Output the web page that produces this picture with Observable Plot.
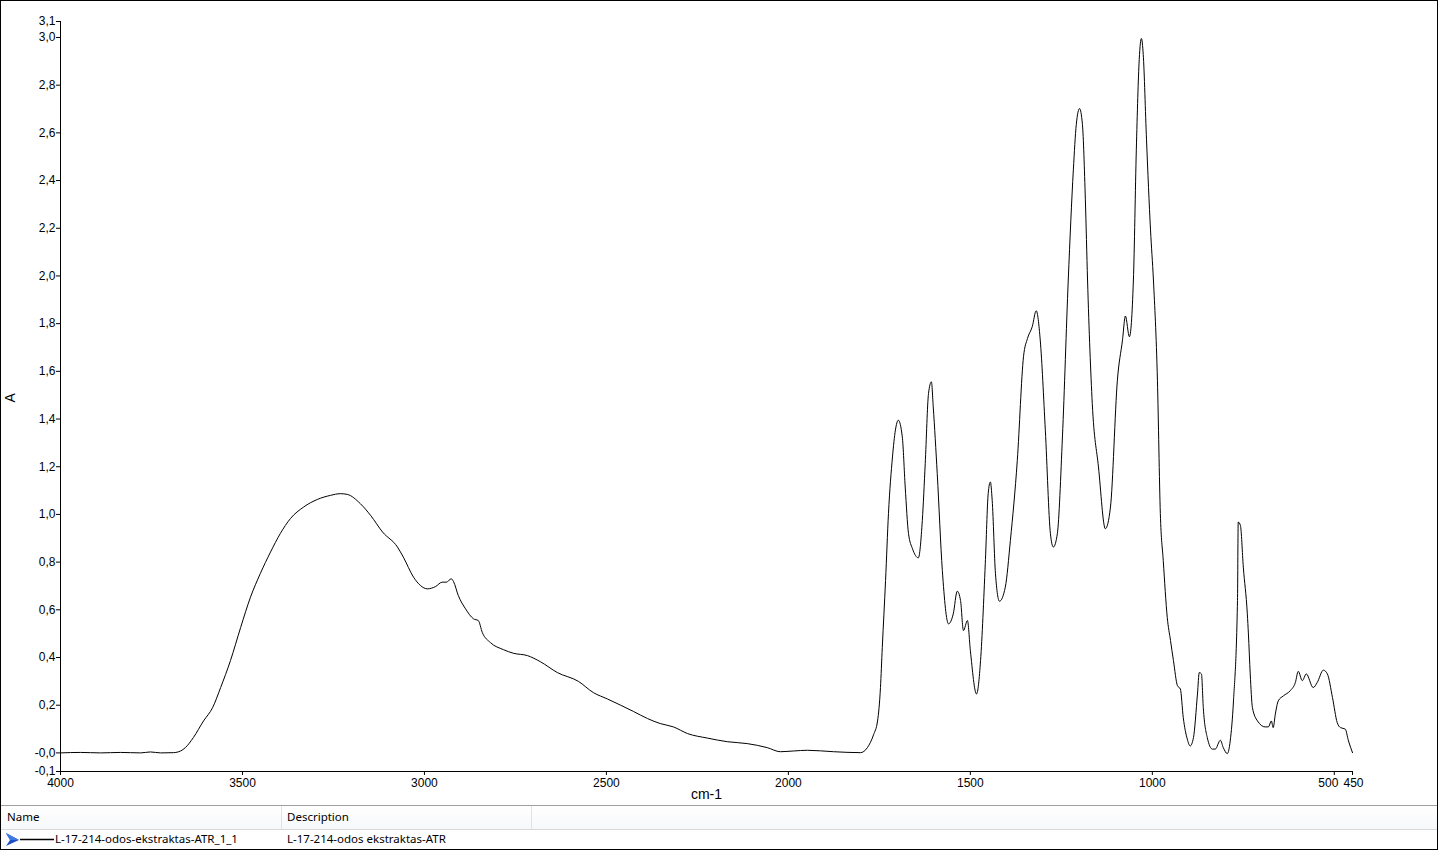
<!DOCTYPE html>
<html>
<head>
<meta charset="utf-8">
<script src="https://cdn.jsdelivr.net/npm/d3@7"></script>
<script src="https://cdn.jsdelivr.net/npm/@observablehq/plot@0.6"></script>
<style>
  html, body { margin: 0; padding: 0; background: #fff; }
  #wrap { position: relative; width: 1438px; height: 850px; background: #fff; overflow: hidden; }
  #chart svg { display: block; }
  #border { position: absolute; left: 0; top: 0; width: 1438px; height: 850px; box-sizing: border-box; border: 1px solid #000; pointer-events: none; }
  #legend { position: absolute; left: 0; top: 805px; width: 1438px; height: 45px; box-sizing: border-box; border-top: 1px solid #a0a0a0; font-family: "Noto Sans", "Open Sans", sans-serif; font-size: 11.5px; color: #000; }
  #legend .hdr { position: absolute; left: 0; top: 0; width: 100%; height: 23px; border-bottom: 1px solid #d8d8d8; background: linear-gradient(#ffffff, #f7f8fa); }
  #legend .cell { position: absolute; line-height: 22px; white-space: nowrap; }
  #legend .sep { position: absolute; top: 0; width: 1px; height: 23px; background: #e2e2e2; }
  #legend .row { position: absolute; left: 0; top: 24px; width: 100%; height: 20px; border-bottom: 1px solid #a0a0a0; }
</style>
</head>
<body>
<div id="wrap">
  <div id="chart"></div>
  <div id="legend"></div>
  <div id="border"></div>
</div>
<script>
// Wavenumbers (cm-1) and absorbance (A)
const wavenumbers = [4000,3945,3890,3835,3780,3753,3725,3690,3670,3657,3635,3607,3582,3560,3533,3505,3478,3451,3423,3396,3368,3332,3294,3258,3231,3212,3176,3148,3115,3074,3058,3030,3011,2992,2970,2951,2940,2926,2920,2907,2887,2865,2852,2841,2819,2783,2756,2717,2681,2635,2577,2536,2497,2426,2387,2352,2316,2277,2222,2168,2113,2058,2022,1986,1948,1876,1802,1783,1766,1755,1747,1742,1733,1725,1714,1706,1698,1687,1679,1670,1659,1643,1632,1624,1615,1607,1602,1591,1577,1560,1547,1536,1527,1519,1508,1500,1483,1472,1459,1451,1445,1440,1431,1420,1404,1390,1371,1354,1343,1330,1319,1308,1294,1280,1272,1261,1247,1231,1217,1209,1200,1192,1184,1178,1165,1148,1129,1115,1096,1082,1074,1063,1052,1044,1036,1030,1025,1016,1005,997,986,978,970,959,950,942,931,923,915,904,896,887,876,871,865,860,849,835,827,813,805,794,786,777,766,764,758,750,739,736,731,725,711,690,681,673,668,662,654,640,621,607,599,588,577,558,547,530,519,505,492,483,470,461,450];
const absorbance = [0.000,0.002,0.000,0.002,0.000,0.004,0.000,0.001,0.008,0.022,0.064,0.134,0.190,0.274,0.387,0.526,0.653,0.752,0.842,0.920,0.983,1.031,1.063,1.080,1.087,1.084,1.045,0.996,0.926,0.863,0.821,0.737,0.702,0.688,0.697,0.716,0.716,0.730,0.718,0.660,0.604,0.562,0.555,0.505,0.463,0.433,0.418,0.408,0.382,0.337,0.300,0.253,0.226,0.174,0.144,0.123,0.109,0.081,0.062,0.047,0.039,0.022,0.005,0.008,0.011,0.005,0.001,0.022,0.076,0.134,0.274,0.442,0.723,1.004,1.241,1.353,1.395,1.325,1.115,0.920,0.856,0.818,0.975,1.213,1.507,1.556,1.451,1.171,0.765,0.541,0.583,0.678,0.639,0.513,0.555,0.429,0.247,0.387,0.793,1.087,1.136,1.059,0.751,0.636,0.695,0.891,1.227,1.661,1.738,1.787,1.854,1.731,1.353,0.919,0.863,0.919,1.325,1.983,2.445,2.634,2.702,2.634,2.319,1.983,1.465,1.199,0.940,1.031,1.563,1.731,1.832,1.745,1.983,2.529,2.908,2.996,2.929,2.571,2.193,1.983,1.563,1.004,0.807,0.568,0.471,0.387,0.282,0.268,0.148,0.058,0.029,0.064,0.247,0.337,0.331,0.190,0.064,0.016,0.016,0.053,0.022,-0.003,0.050,0.218,0.639,0.968,0.954,0.779,0.583,0.499,0.331,0.190,0.134,0.109,0.109,0.134,0.106,0.163,0.218,0.239,0.261,0.295,0.342,0.303,0.331,0.274,0.295,0.347,0.331,0.232,0.127,0.106,0.100,0.050,0.001];

// Axis setup
const xDomain = [4000, 450];
const xTicks = [4000, 3500, 3000, 2500, 2000, 1500, 1000, 500, 450];
const xCrowdedTicks = [500, 450];          // labels nudged apart, as in the reference
const xCrowdedShift = [-6, 1];
const yDomain = [-0.078, 3.067];
const yTicks = [-0.078, 0, 0.2, 0.4, 0.6, 0.8, 1.0, 1.2, 1.4, 1.6, 1.8, 2.0, 2.2, 2.4, 2.6, 2.8, 3.0, 3.067];
const yTickLabels = ["-0,1","-0,0","0,2","0,4","0,6","0,8","1,0","1,2","1,4","1,6","1,8","2,0","2,2","2,4","2,6","2,8","3,0","3,1"];
const xLabel = "cm-1";
const yLabel = "A";

// Legend
const legendName = "L-17-214-odos-ekstraktas-ATR_1_1";
const legendDescription = "L-17-214-odos ekstraktas-ATR";

const spectrum = wavenumbers.map((w, i) => ({wn: w, a: absorbance[i]}));

const chart = Plot.plot({
  width: 1438,
  height: 805,
  marginTop: 21,
  marginLeft: 60,
  marginRight: 86,
  marginBottom: 34,
  style: {fontFamily: "'Liberation Sans', Arial, sans-serif", fontSize: "12px", color: "#000", background: "#fff"},
  x: {domain: xDomain},
  y: {domain: yDomain},
  marks: [
    Plot.line(spectrum, {x: "wn", y: "a", stroke: "#000", strokeWidth: 1, curve: "monotone-x"}),
    Plot.axisX({ticks: xTicks, tickFormat: d => xCrowdedTicks.includes(d) ? "" : String(d), tickSize: 4, tickPadding: 3, label: null, stroke: "#000"}),
    ...xCrowdedTicks.map((t, i) => Plot.text([t], {x: d => d, frameAnchor: "bottom", lineAnchor: "top", dy: 7, dx: xCrowdedShift[i], text: d => String(d), fill: "#000", fontSize: 12})),
    Plot.axisY({ticks: yTicks, tickFormat: (d, i) => yTickLabels[i], tickSize: 4, tickPadding: 1, label: null, stroke: "#000"}),
    Plot.ruleX([xDomain[0]], {stroke: "#000", strokeWidth: 1}),
    Plot.ruleY([yDomain[0]], {stroke: "#000", strokeWidth: 1}),
    Plot.text([xLabel], {frameAnchor: "bottom", dy: 27, fontSize: 14, fill: "#000"}),
    Plot.text([yLabel], {frameAnchor: "left", dx: -50, dy: 6, rotate: -90, fontSize: 14, fill: "#000"})
  ]
});
document.getElementById("chart").appendChild(chart);

// Legend table
const legend = document.getElementById("legend");
legend.innerHTML = `
  <div class="hdr">
    <div class="cell" style="left:7px;top:0">Name</div>
    <div class="sep" style="left:281px"></div>
    <div class="cell" style="left:287px;top:0">Description</div>
    <div class="sep" style="left:531px"></div>
  </div>
  <div class="row">
    <svg width="56" height="20" style="position:absolute;left:0;top:0">
      <polygon points="6,3 19,10 6,16 10,10" fill="#1f4fc4"/>
      <polygon points="6,3 19,10 10,10" fill="#3f78e8"/>
      <line x1="20" y1="9.5" x2="54" y2="9.5" stroke="#000" stroke-width="1.5"/>
    </svg>
    <div class="cell" style="left:55px;top:-1px;line-height:20px">${legendName}</div>
    <div class="cell" style="left:287px;top:-1px;line-height:20px">${legendDescription}</div>
  </div>`;
</script>
</body>
</html>
